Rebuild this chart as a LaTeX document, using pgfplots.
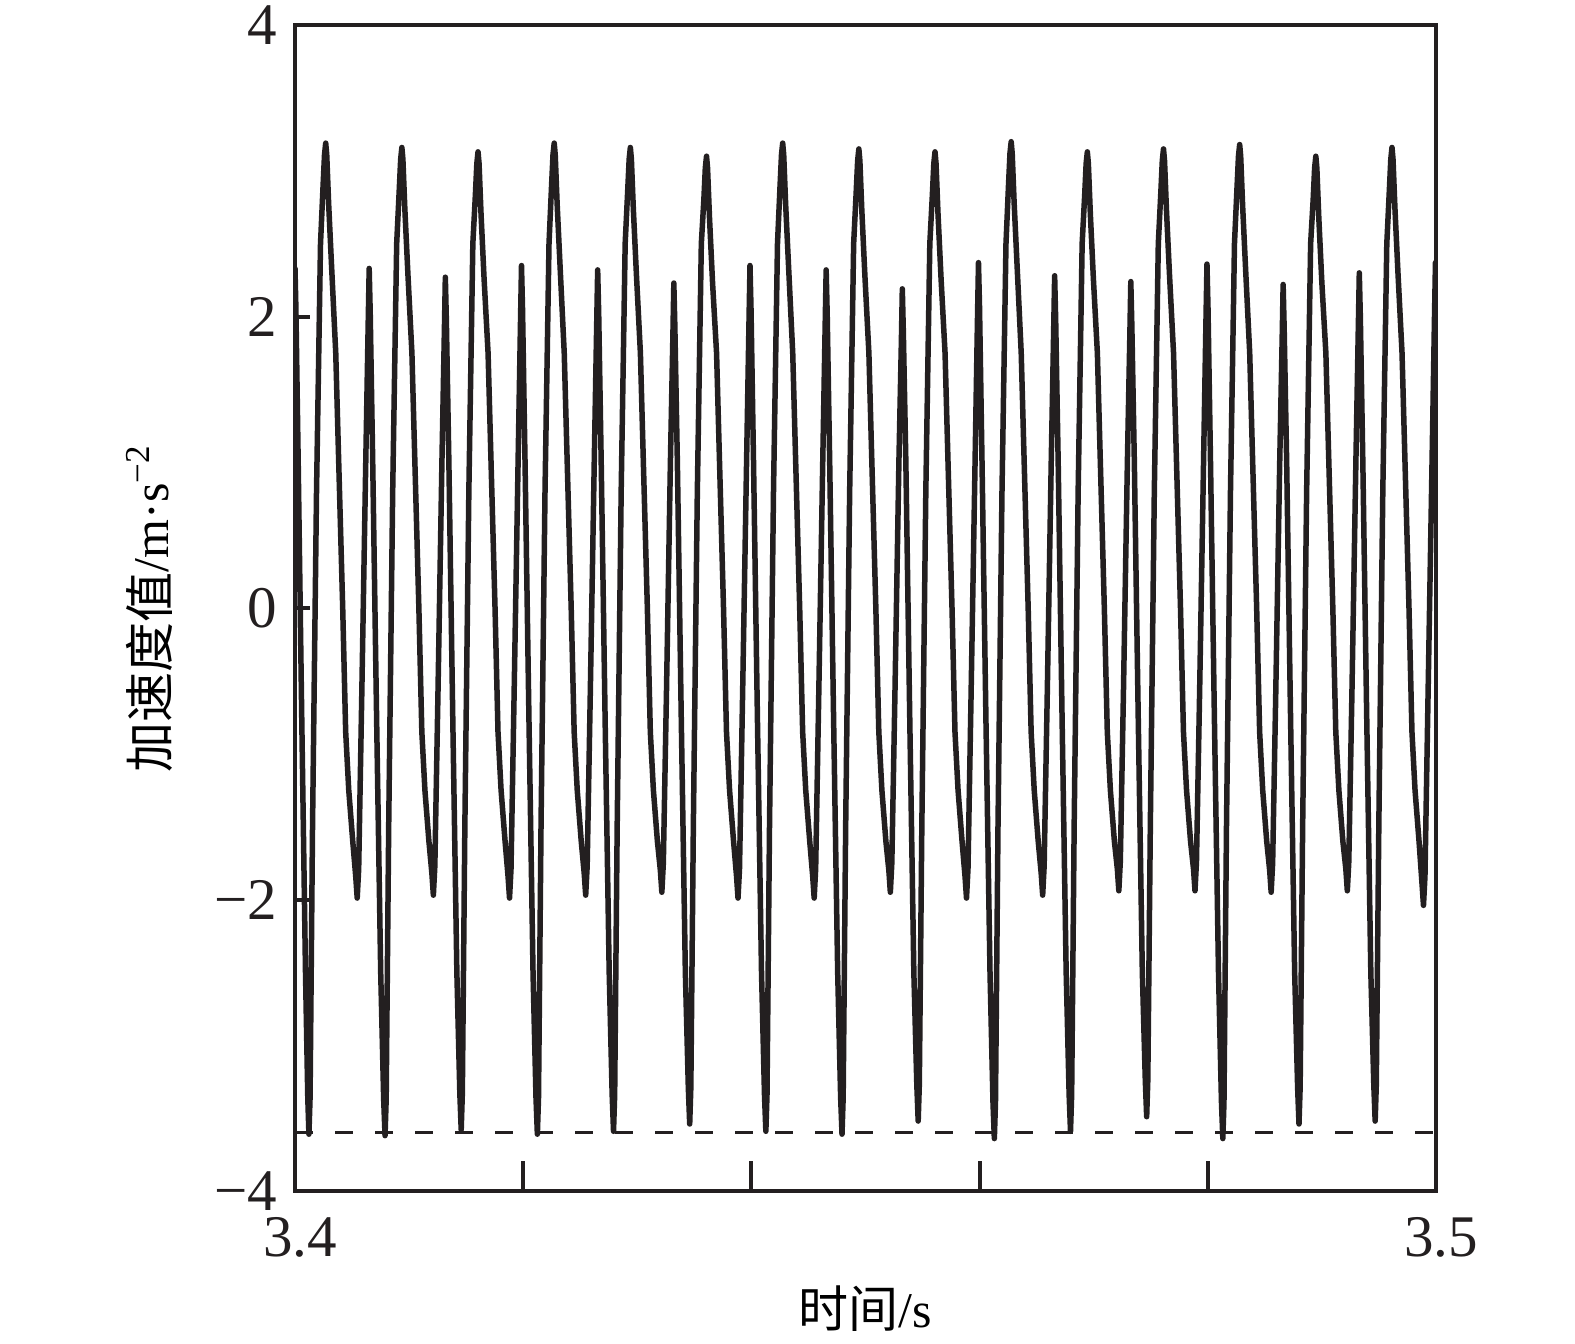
\documentclass[border=0pt]{standalone}
\usepackage{fontspec}
\setmainfont{Liberation Serif}
\newfontfamily\cjk{Noto Sans CJK SC}
\usepackage{pgfplots}
\usepackage{pgfplotstable}
\pgfplotsset{compat=1.18}
\definecolor{ink}{RGB}{35,31,32}

% time in ms after 3.4 s, acceleration in m/s^2
\pgfplotstableread{
t a
-0.050 2.20
0.000 2.33
0.080 2.05
0.280 1.00
0.600 -0.80
0.920 -2.50
1.120 -3.36
1.220 -3.61
1.320 -3.36
1.536 -1.50
1.886 0.80
2.236 2.50
2.456 2.89
2.586 3.11
2.691 3.19
2.781 3.11
2.951 2.77
3.221 2.32
3.571 1.75
3.831 1.00
4.181 0.00
4.441 -0.85
4.711 -1.25
5.061 -1.60
5.321 -1.84
5.451 -1.99
5.581 -1.79
5.851 -0.60
6.201 1.00
6.421 1.98
6.501 2.33
6.591 2.03
6.811 1.00
7.161 -0.80
7.511 -2.50
7.771 -3.37
7.891 -3.62
7.991 -3.37
8.211 -1.50
8.561 0.80
8.911 2.50
9.131 2.86
9.261 3.08
9.366 3.16
9.456 3.08
9.626 2.74
9.896 2.29
10.246 1.75
10.506 1.00
10.856 0.00
11.116 -0.85
11.386 -1.25
11.736 -1.60
11.996 -1.82
12.126 -1.97
12.256 -1.77
12.526 -0.60
12.876 1.00
13.096 1.92
13.176 2.27
13.266 1.97
13.486 1.00
13.836 -0.80
14.186 -2.50
14.446 -3.33
14.566 -3.58
14.666 -3.33
14.886 -1.50
15.236 0.80
15.586 2.50
15.806 2.83
15.936 3.05
16.041 3.13
16.131 3.05
16.301 2.71
16.571 2.26
16.921 1.75
17.181 1.00
17.531 0.00
17.791 -0.85
18.061 -1.25
18.411 -1.60
18.671 -1.84
18.801 -1.99
18.931 -1.79
19.201 -0.60
19.551 1.00
19.771 2.00
19.851 2.35
19.941 2.05
20.161 1.00
20.511 -0.80
20.861 -2.50
21.121 -3.36
21.241 -3.61
21.341 -3.36
21.561 -1.50
21.911 0.80
22.261 2.50
22.481 2.89
22.611 3.11
22.716 3.19
22.806 3.11
22.976 2.77
23.246 2.32
23.596 1.75
23.856 1.00
24.206 0.00
24.466 -0.85
24.736 -1.25
25.086 -1.60
25.346 -1.82
25.476 -1.97
25.606 -1.77
25.876 -0.60
26.226 1.00
26.446 1.97
26.526 2.32
26.616 2.02
26.836 1.00
27.186 -0.80
27.536 -2.50
27.796 -3.34
27.916 -3.59
28.016 -3.34
28.236 -1.50
28.586 0.80
28.936 2.50
29.156 2.86
29.286 3.08
29.391 3.16
29.481 3.08
29.651 2.74
29.921 2.29
30.271 1.75
30.531 1.00
30.881 0.00
31.141 -0.85
31.411 -1.25
31.761 -1.60
32.021 -1.80
32.151 -1.95
32.281 -1.75
32.551 -0.60
32.901 1.00
33.121 1.88
33.201 2.23
33.291 1.93
33.511 1.00
33.861 -0.80
34.211 -2.50
34.471 -3.29
34.591 -3.54
34.691 -3.29
34.911 -1.50
35.261 0.80
35.611 2.50
35.831 2.80
35.961 3.02
36.066 3.10
36.156 3.02
36.326 2.68
36.596 2.23
36.946 1.75
37.206 1.00
37.556 0.00
37.816 -0.85
38.086 -1.25
38.436 -1.60
38.696 -1.84
38.826 -1.99
38.956 -1.79
39.226 -0.60
39.576 1.00
39.796 2.00
39.876 2.35
39.966 2.05
40.186 1.00
40.536 -0.80
40.886 -2.50
41.146 -3.34
41.266 -3.59
41.366 -3.34
41.586 -1.50
41.936 0.80
42.286 2.50
42.506 2.89
42.636 3.11
42.741 3.19
42.831 3.11
43.001 2.77
43.271 2.32
43.621 1.75
43.881 1.00
44.231 0.00
44.491 -0.85
44.761 -1.25
45.111 -1.60
45.371 -1.84
45.501 -1.99
45.631 -1.79
45.901 -0.60
46.251 1.00
46.471 1.97
46.551 2.32
46.641 2.02
46.861 1.00
47.211 -0.80
47.561 -2.50
47.821 -3.36
47.941 -3.61
48.041 -3.36
48.261 -1.50
48.611 0.80
48.961 2.50
49.181 2.85
49.311 3.07
49.416 3.15
49.506 3.07
49.676 2.73
49.946 2.28
50.296 1.75
50.556 1.00
50.906 0.00
51.166 -0.85
51.436 -1.25
51.786 -1.60
52.046 -1.80
52.176 -1.95
52.306 -1.75
52.576 -0.60
52.926 1.00
53.146 1.84
53.226 2.19
53.316 1.89
53.536 1.00
53.886 -0.80
54.236 -2.50
54.496 -3.27
54.616 -3.52
54.716 -3.27
54.936 -1.50
55.286 0.80
55.636 2.50
55.856 2.83
55.986 3.05
56.091 3.13
56.181 3.05
56.351 2.71
56.621 2.26
56.971 1.75
57.231 1.00
57.581 0.00
57.841 -0.85
58.111 -1.25
58.461 -1.60
58.721 -1.84
58.851 -1.99
58.981 -1.79
59.251 -0.60
59.601 1.00
59.821 2.02
59.901 2.37
59.991 2.07
60.211 1.00
60.561 -0.80
60.911 -2.50
61.171 -3.39
61.291 -3.64
61.391 -3.39
61.611 -1.50
61.961 0.80
62.311 2.50
62.531 2.90
62.661 3.12
62.766 3.20
62.856 3.12
63.026 2.78
63.296 2.33
63.646 1.75
63.906 1.00
64.256 0.00
64.516 -0.85
64.786 -1.25
65.136 -1.60
65.396 -1.82
65.526 -1.97
65.656 -1.77
65.926 -0.60
66.276 1.00
66.496 1.93
66.576 2.28
66.666 1.98
66.886 1.00
67.236 -0.80
67.586 -2.50
67.846 -3.34
67.966 -3.59
68.066 -3.34
68.286 -1.50
68.636 0.80
68.986 2.50
69.206 2.83
69.336 3.05
69.441 3.13
69.531 3.05
69.701 2.71
69.971 2.26
70.321 1.75
70.581 1.00
70.931 0.00
71.191 -0.85
71.461 -1.25
71.811 -1.60
72.071 -1.79
72.201 -1.94
72.331 -1.74
72.601 -0.60
72.951 1.00
73.171 1.89
73.251 2.24
73.341 1.94
73.561 1.00
73.911 -0.80
74.261 -2.50
74.521 -3.24
74.641 -3.49
74.741 -3.24
74.961 -1.50
75.311 0.80
75.661 2.50
75.881 2.85
76.011 3.07
76.116 3.15
76.206 3.07
76.376 2.73
76.646 2.28
76.996 1.75
77.256 1.00
77.606 0.00
77.866 -0.85
78.136 -1.25
78.486 -1.60
78.746 -1.79
78.876 -1.94
79.006 -1.74
79.276 -0.60
79.626 1.00
79.846 2.01
79.926 2.36
80.016 2.06
80.236 1.00
80.586 -0.80
80.936 -2.50
81.196 -3.39
81.316 -3.64
81.416 -3.39
81.636 -1.50
81.986 0.80
82.336 2.50
82.556 2.88
82.686 3.10
82.791 3.18
82.881 3.10
83.051 2.76
83.321 2.31
83.671 1.75
83.931 1.00
84.281 0.00
84.541 -0.85
84.811 -1.25
85.161 -1.60
85.421 -1.80
85.551 -1.95
85.681 -1.75
85.951 -0.60
86.301 1.00
86.521 1.87
86.601 2.22
86.691 1.92
86.911 1.00
87.261 -0.80
87.611 -2.50
87.871 -3.29
87.991 -3.54
88.091 -3.29
88.311 -1.50
88.661 0.80
89.011 2.50
89.231 2.80
89.361 3.02
89.466 3.10
89.556 3.02
89.726 2.68
89.996 2.23
90.346 1.75
90.606 1.00
90.956 0.00
91.216 -0.85
91.486 -1.25
91.836 -1.60
92.096 -1.79
92.226 -1.94
92.356 -1.74
92.626 -0.60
92.976 1.00
93.196 1.95
93.276 2.30
93.366 2.00
93.586 1.00
93.936 -0.80
94.286 -2.50
94.546 -3.27
94.666 -3.52
94.766 -3.27
94.986 -1.50
95.336 0.80
95.686 2.50
95.906 2.86
96.036 3.08
96.141 3.16
96.231 3.08
96.401 2.74
96.671 2.29
97.021 1.75
97.281 1.00
97.631 0.00
97.891 -0.85
98.161 -1.25
98.511 -1.60
98.771 -1.89
98.901 -2.04
99.031 -1.84
99.301 -0.60
99.651 1.00
99.871 2.02
99.951 2.37
100.041 2.07
100.261 1.00
}\accel

\begin{document}
\begin{tikzpicture}
\path[use as bounding box] (-59pt,-30.4pt) rectangle (256pt,238.2pt);
\begin{axis}[
    scale only axis,
    width=228.2pt, height=233.2pt,
    xmin=0, xmax=100, ymin=-4, ymax=4,
    xtick=\empty,
    extra x ticks={0,20,40,60,80,100},
    extra x tick labels={3.4,,,,,3.5},
    extra tick style={major tick length=6pt},
    ytick={-4,-2,0,2,4},
    yticklabels={−4,−2,0,2,4},
    major tick length=3pt,
    tick align=inside,
    xtick pos=lower, ytick pos=left,
    axis line style={line width=0.8pt, ink},
    tick style={line width=0.8pt, ink},
    tick label style={font=\fontsize{11.8}{14}\selectfont, text=ink},
    xticklabel style={yshift=-1.8pt, xshift=1pt},
    label style={font=\fontsize{12.6}{15}\selectfont, text=ink},
    xlabel={{\cjk 时间}/s},
    ylabel={{\cjk 加速度值}/m·s\textsuperscript{−2}},
    every axis x label/.style={at={(axis description cs:0.5,-0.101)}, anchor=center},
    every axis y label/.style={at={(axis description cs:-0.128,0.5)}, anchor=center, rotate=90},
]
\addplot[ink, line width=1.1pt, line join=round] table[x=t, y=a] {\accel};
\addplot[ink, line width=0.7pt, dash pattern=on 3.6pt off 4.4pt] coordinates {(0,-3.6) (100,-3.6)};
\end{axis}
\end{tikzpicture}
\end{document}
